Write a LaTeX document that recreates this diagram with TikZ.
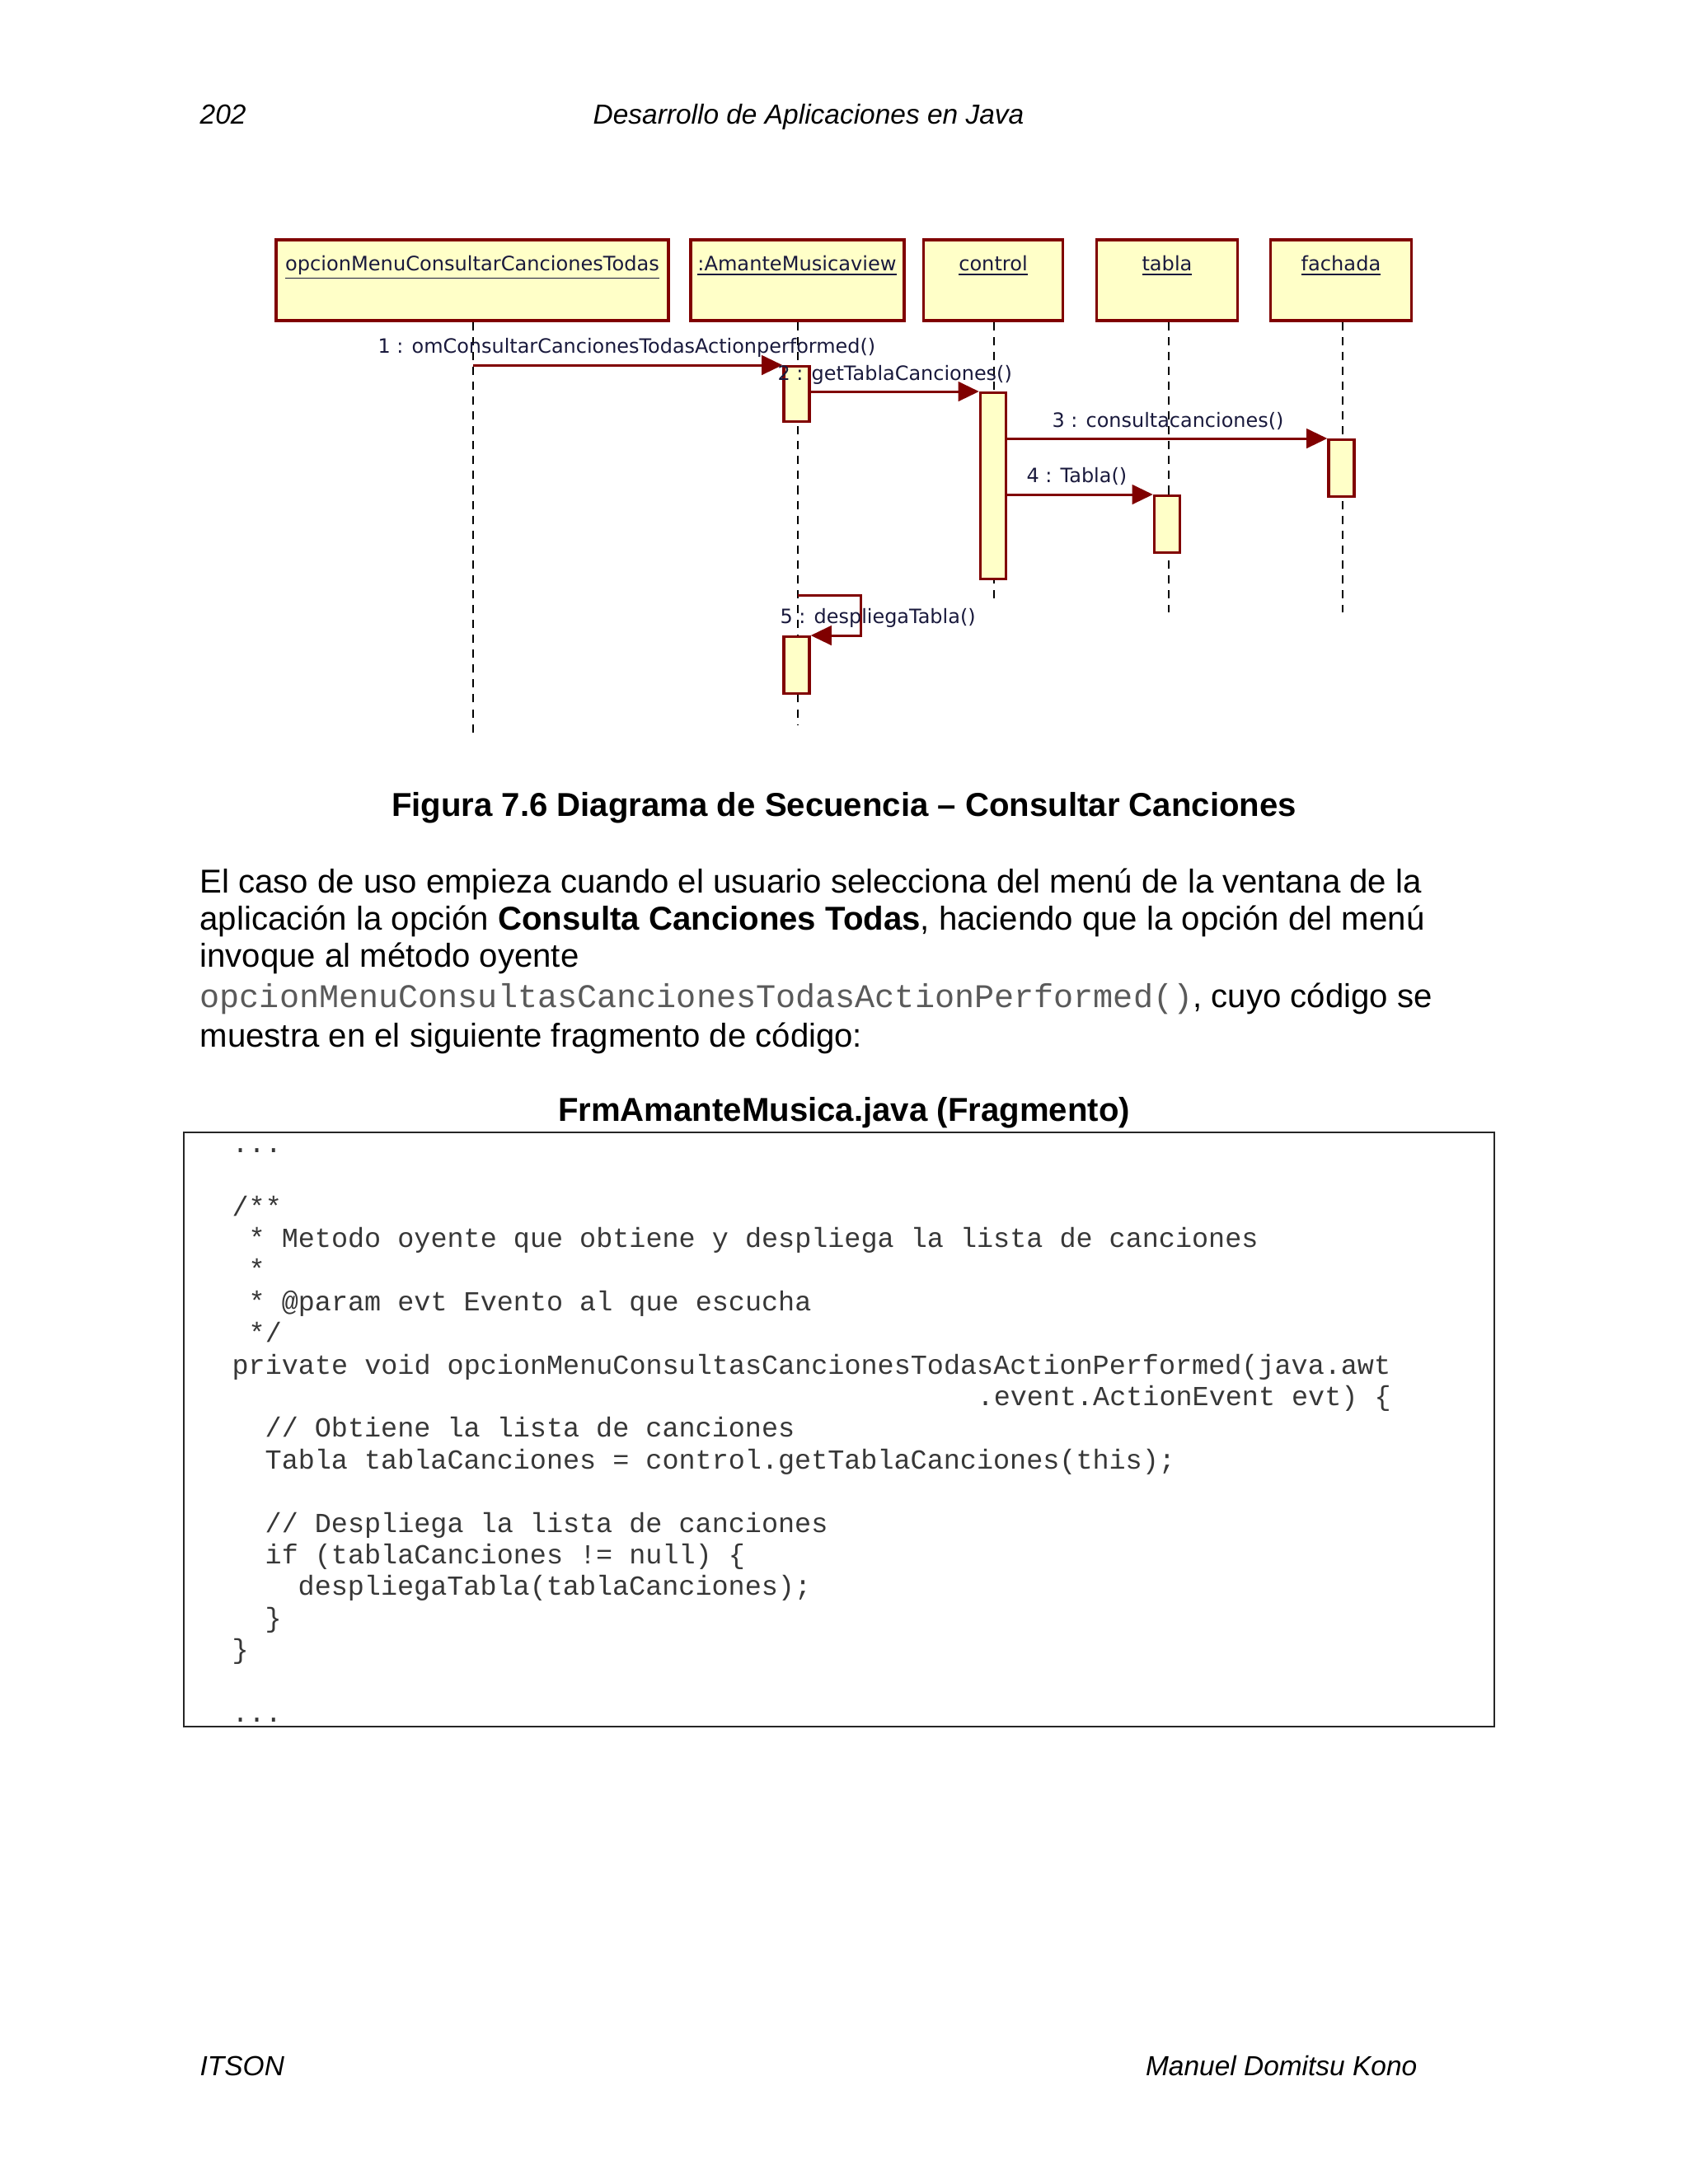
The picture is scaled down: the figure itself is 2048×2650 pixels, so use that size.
\documentclass[tikz,border=0pt]{standalone}
\usepackage{fontspec}
\setmainfont{Liberation Sans}
\setmonofont{Liberation Mono}
\newfontfamily\umlfont{DejaVu Sans}
\usetikzlibrary{arrows.meta}
\definecolor{boxfill}{RGB}{255,255,200}
\definecolor{boxline}{RGB}{128,0,0}
\definecolor{umltext}{RGB}{25,25,60}
\definecolor{codecol}{RGB}{55,55,55}
\definecolor{ttgray}{RGB}{90,90,90}
\begin{document}
\begin{tikzpicture}[x=0.29883pt,y=-0.29883pt,
  objbox/.style={draw=boxline,fill=boxfill,line width=1pt,inner sep=0pt,minimum height=98*0.29883pt},
  objtxt/.style={anchor=base,inner sep=0pt,text=umltext,font=\umlfont\fontsize{7.2}{8}\selectfont},
  lifeline/.style={draw=black,line width=0.8pt,dash pattern=on 3pt off 2.4pt},
  actbox/.style={draw=boxline,fill=boxfill,line width=1pt,inner sep=0pt,minimum width=31*0.29883pt,anchor=north},
  msg/.style={draw=boxline,line width=0.9pt,-{Triangle[length=7.5pt,width=7pt]}},
  msgtxt/.style={anchor=base west,inner sep=0pt,text=umltext,font=\umlfont\fontsize{7.15}{8}\selectfont},
  body/.style={anchor=base west,inner sep=0pt,font=\fontsize{12}{14}\selectfont},
  hdrtxt/.style={inner sep=0pt,font=\itshape\fontsize{10}{12}\selectfont},
  codeln/.style={anchor=base west,inner sep=0pt,text=codecol,font=\ttfamily\fontsize{10}{11.5}\selectfont}]
\useasboundingbox (0,0) rectangle (2048,2650);
\fill[white] (0,0) rectangle (2048,2650);

% header and footer
\node[hdrtxt,anchor=base west] (pnum) at (242,150) {202};
\node[hdrtxt,anchor=base] (hdr) at (981,150) {Desarrollo de Aplicaciones en Java};
\node[hdrtxt,anchor=base west] (ftl) at (242,2518) {ITSON};
\node[hdrtxt,anchor=base east] (ftr) at (1720,2518) {Manuel Domitsu Kono};

% object boxes
\node[objbox,minimum width=476*0.29883pt] (A) at (573,340) {};
\node[objbox,minimum width=259*0.29883pt] (B) at (967.5,340) {};
\node[objbox,minimum width=169*0.29883pt] (C) at (1205,340) {};
\node[objbox,minimum width=171*0.29883pt] (D) at (1416,340) {};
\node[objbox,minimum width=171*0.29883pt] (E) at (1627,340) {};
\node[objtxt] (At) at (573,328) {\underline{opcionMenuConsultarCancionesTodas}};
\node[objtxt] (Bt) at (967,328) {\underline{:AmanteMusicaview}};
\node[objtxt] (Ct) at (1205,328) {\underline{control}};
\node[objtxt] (Dt) at (1416,328) {\underline{tabla}};
\node[objtxt] (Et) at (1627,328) {\underline{fachada}};

% lifeline ends
\coordinate (Aend) at (574,896);
\coordinate (Bend) at (968,880);
\coordinate (Cend) at (1206,729);
\coordinate (Dend) at (1418,743);
\coordinate (Eend) at (1629,743);
\draw[lifeline] (A.south -| Aend) -- (Aend);
\draw[lifeline] (B.south -| Bend) -- (Bend);
\draw[lifeline] (C.south -| Cend) -- (Cend);
\draw[lifeline] (D.south -| Dend) -- (Dend);
\draw[lifeline] (E.south -| Eend) -- (Eend);

% activations
\node[actbox,minimum height=67*0.29883pt] (act1) at (966.5,443) {};
\node[actbox,minimum height=226*0.29883pt] (act2) at (1205,475) {};
\node[actbox,minimum height=69*0.29883pt] (act3) at (1627.5,532) {};
\node[actbox,minimum height=69*0.29883pt] (act4) at (1416,600) {};
\node[actbox,minimum height=69*0.29883pt] (act5) at (966.5,771) {};

% messages
\coordinate (m1s) at (574,443);
\coordinate (m5s) at (968,722);
\draw[msg] (m1s) -- (act1.north west);
\draw[msg] (act1.east |- act2.north) -- (act2.north west);
\draw[msg] (act2.east |- act3.north) -- (act3.north west);
\draw[msg] (act2.east |- act4.north) -- (act4.north west);
\draw[msg] (m5s) -- ++(76,0) |- (act5.north east);

\node[msgtxt] (l1) at (458,428) {1 : omConsultarCancionesTodasActionperformed()};
\node[msgtxt] (l2) at (943,461) {2 : getTablaCanciones()};
\node[msgtxt] (l3) at (1276,518) {3 : consultacanciones()};
\node[msgtxt] (l4) at (1245,585) {4 : Tabla()};
\node[msgtxt] (l5) at (946,756) {5 : despliegaTabla()};

% caption
\node[anchor=base,inner sep=0pt,font=\bfseries\fontsize{12}{14}\selectfont] (cap) at (1024,990) {Figura 7.6 Diagrama de Secuencia – Consultar Canciones};

% paragraph
\node[body] (p1) at (242,1083) {El caso de uso empieza cuando el usuario selecciona del menú de la ventana de la};
\node[body] (p2) at (242,1128) {aplicación la opción \textbf{Consulta Canciones Todas}, haciendo que la opción del menú};
\node[body] (p3) at (242,1173) {invoque al método oyente};
\node[body] (p4) at (242,1222) {{\ttfamily\color{ttgray}opcionMenuConsultasCancionesTodasActionPerformed()}, cuyo código se};
\node[body] (p5) at (242,1270) {muestra en el siguiente fragmento de código:};

% code title and box
\node[anchor=base,inner sep=0pt,font=\bfseries\fontsize{12}{14}\selectfont] (ttl) at (1024,1360) {FrmAmanteMusica.java (Fragmento)};
\draw[line width=0.7pt,draw=black!85] (223,1374) rectangle (1813,2095);

\node[codeln] (c0) at (281,1398) {...};
\node[codeln] (c1) at (281,1475) {/**};
\node[codeln] (c2) at (301,1513.4) {* Metodo oyente que obtiene y despliega la lista de canciones};
\node[codeln] (c3) at (301,1551.8) {*};
\node[codeln] (c4) at (301,1590.2) {* @param evt Evento al que escucha};
\node[codeln] (c5) at (301,1628.6) {*/};
\node[codeln] (c6) at (281,1667) {private void opcionMenuConsultasCancionesTodasActionPerformed(java.awt};
\node[codeln] (c7) at (1185,1705.4) {.event.ActionEvent evt) \{};
\node[codeln] (c8) at (321,1743.8) {// Obtiene la lista de canciones};
\node[codeln] (c9) at (321,1782.2) {Tabla tablaCanciones = control.getTablaCanciones(this);};
\node[codeln] (c10) at (321,1859) {// Despliega la lista de canciones};
\node[codeln] (c11) at (321,1897.4) {if (tablaCanciones != null) \{};
\node[codeln] (c12) at (361,1935.8) {despliegaTabla(tablaCanciones);};
\node[codeln] (c13) at (321,1974.2) {\}};
\node[codeln] (c14) at (281,2012.6) {\}};
\node[codeln] (c15) at (281,2089.4) {...};
\end{tikzpicture}
\end{document}
